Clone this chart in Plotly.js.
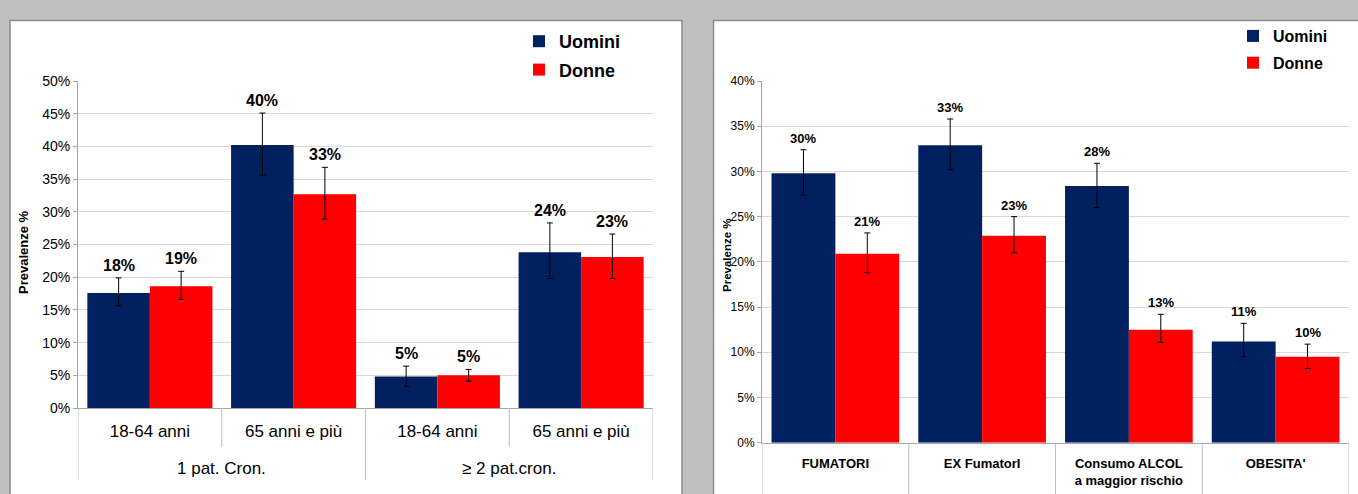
<!DOCTYPE html>
<html><head><meta charset="utf-8">
<script src="https://cdn.plot.ly/plotly-3.0.1.min.js"></script>
<style>html,body{margin:0;padding:0;background:#c0c0c0;} #chart{width:1358px;height:494px;}</style>
</head><body><div id="chart"></div>
<script>
// ---------- data: left chart ----------
const leftGroups = ['1 pat. Cron.', '1 pat. Cron.', '≥ 2 pat.cron.', '≥ 2 pat.cron.'];
const leftCategories = ['18-64 anni', '65 anni e più', '18-64 anni', '65 anni e più'];
const leftUomini = [17.6, 40.2, 4.8, 23.8];
const leftUominiLow = [15.6, 35.6, 3.3, 19.8];
const leftUominiHigh = [19.9, 45.1, 6.4, 28.3];
const leftDonne = [18.6, 32.7, 5.0, 23.1];
const leftDonneLow = [16.6, 28.9, 4.1, 19.8];
const leftDonneHigh = [20.9, 36.8, 5.9, 26.6];

// ---------- data: right chart ----------
const rightCategories = ['FUMATORI', 'EX FumatorI', 'Consumo ALCOL<br>a maggior rischio', "OBESITA'"];
const rightUomini = [29.8, 32.9, 28.4, 11.2];
const rightUominiLow = [27.4, 30.2, 26.0, 9.5];
const rightUominiHigh = [32.4, 35.8, 30.9, 13.2];
const rightDonne = [20.9, 22.9, 12.5, 9.5];
const rightDonneLow = [18.8, 21.0, 11.1, 8.2];
const rightDonneHigh = [23.2, 25.0, 14.2, 10.9];

const seriesNames = ['Uomini', 'Donne'];
const yTitle = 'Prevalenze %';

// ---------- styling ----------
const NAVY = '#002060', RED = '#ff0000';
const FONT = 'Liberation Sans, Arial, sans-serif';
const W = 1358, H = 494;
const px = v => v / W, py = v => 1 - v / H;
const BARGAP = 0.13;

function errBar(vals, lo, hi) {
  return {type: 'data', symmetric: false,
    array: hi.map((h, i) => +(h - vals[i]).toFixed(2)),
    arrayminus: lo.map((l, i) => +(vals[i] - l).toFixed(2)),
    color: '#000', thickness: 1, width: 3};
}

// left chart uses index positions so repeated category names stay separate
const leftX = leftCategories.map((c, i) => i);
const traces = [
  {type: 'bar', name: seriesNames[0], x: leftX, y: leftUomini, marker: {color: NAVY},
   error_y: errBar(leftUomini, leftUominiLow, leftUominiHigh), xaxis: 'x', yaxis: 'y',
   legend: 'legend', legendgroup: 'a', hoverinfo: 'none'},
  {type: 'bar', name: seriesNames[1], x: leftX, y: leftDonne, marker: {color: RED},
   error_y: errBar(leftDonne, leftDonneLow, leftDonneHigh), xaxis: 'x', yaxis: 'y',
   legend: 'legend', legendgroup: 'b', hoverinfo: 'none'},
  {type: 'bar', name: seriesNames[0], x: rightCategories, y: rightUomini, marker: {color: NAVY},
   error_y: errBar(rightUomini, rightUominiLow, rightUominiHigh), xaxis: 'x2', yaxis: 'y2',
   legend: 'legend2', legendgroup: 'c', hoverinfo: 'none'},
  {type: 'bar', name: seriesNames[1], x: rightCategories, y: rightDonne, marker: {color: RED},
   error_y: errBar(rightDonne, rightDonneLow, rightDonneHigh), xaxis: 'x2', yaxis: 'y2',
   legend: 'legend2', legendgroup: 'd', hoverinfo: 'none'}
];

// value labels
const off = (1 - BARGAP) / 4;
const annotations = [];
function addLabels(vals, hi, sign, xref, yref, size) {
  vals.forEach((v, i) => annotations.push({
    x: i + sign * off, y: hi[i], xref: xref, yref: yref, yanchor: 'bottom', yshift: 2,
    text: Math.round(v) + '%', showarrow: false,
    font: {family: FONT, size: size, color: '#000', weight: 'bold'}
  }));
}
addLabels(leftUomini, leftUominiHigh, -1, 'x', 'y', 16);
addLabels(leftDonne, leftDonneHigh, 1, 'x', 'y', 16);
addLabels(rightUomini, rightUominiHigh, -1, 'x2', 'y2', 13);
addLabels(rightDonne, rightDonneHigh, 1, 'x2', 'y2', 13);

annotations.push({x: px(23), y: py(252), xref: 'paper', yref: 'paper', xanchor: 'center', yanchor: 'middle',
  text: yTitle, textangle: -90, showarrow: false,
  font: {family: FONT, size: 13, color: '#000', weight: 'bold'}});
annotations.push({x: px(727), y: py(255), xref: 'paper', yref: 'paper', xanchor: 'center', yanchor: 'middle',
  text: yTitle, textangle: -90, showarrow: false,
  font: {family: FONT, size: 11.5, color: '#000', weight: 'bold'}});

// shapes: panels and category separators
const SEP = '#bfbfbf';
const shapes = [
  {type: 'rect', xref: 'paper', yref: 'paper', x0: px(10), x1: px(682), y0: -0.1, y1: py(20.5),
   fillcolor: '#ffffff', line: {color: '#8c8c8c', width: 1.5}, layer: 'below'},
  {type: 'rect', xref: 'paper', yref: 'paper', x0: px(713.5), x1: 1.1, y0: -0.1, y1: py(20.5),
   fillcolor: '#ffffff', line: {color: '#8c8c8c', width: 1.5}, layer: 'below'}
];
for (let i = 0; i <= leftCategories.length; i++) {
  const isGroupEdge = (i === 0 || i === leftCategories.length || leftGroups[i] !== leftGroups[i - 1]);
  shapes.push({type: 'line', xref: 'x', yref: 'paper', x0: i - 0.5, x1: i - 0.5,
    y0: py(408), y1: isGroupEdge ? py(480) : py(447), line: {color: SEP, width: 1}});
}
for (let i = 0; i <= rightCategories.length; i++) {
  shapes.push({type: 'line', xref: 'x2', yref: 'paper', x0: i - 0.5, x1: i - 0.5,
    y0: py(442.7), y1: -0.05, line: {color: SEP, width: 1}});
}
// group labels under the left chart
const groupNames = [...new Set(leftGroups)];
groupNames.forEach(g => {
  const idx = leftGroups.map((v, i) => v === g ? i : -1).filter(i => i >= 0);
  const mid = (idx[0] + idx[idx.length - 1]) / 2;
  annotations.push({x: mid, y: py(468), xref: 'x', yref: 'paper', xanchor: 'center', yanchor: 'middle',
    text: g, showarrow: false, font: {family: FONT, size: 17, color: '#000'}});
});

const yAxisCommon = {ticksuffix: '%', dtick: 5, showgrid: true, gridcolor: '#d9d9d9', gridwidth: 1,
  zeroline: false, showline: true, linecolor: '#a6a6a6', ticks: 'outside', ticklen: 4,
  tickcolor: '#a6a6a6', fixedrange: true};

const layout = {
  width: W, height: H,
  margin: {l: 0, r: 0, t: 0, b: 0},
  paper_bgcolor: '#c0c0c0', plot_bgcolor: 'rgba(0,0,0,0)',
  barmode: 'group', bargap: BARGAP, bargroupgap: 0,
  font: {family: FONT, color: '#000'},
  showlegend: true,
  xaxis: {domain: [px(78), px(653)], anchor: 'y', type: 'linear',
    tickmode: 'array', tickvals: leftX, ticktext: leftCategories,
    range: [-0.5, leftCategories.length - 0.5],
    showline: true, linecolor: '#a6a6a6', ticks: '', showgrid: false, zeroline: false,
    tickfont: {family: FONT, size: 17, color: '#000'}, ticklabelstandoff: 8, fixedrange: true},
  yaxis: Object.assign({domain: [py(408), py(81)], range: [0, 50], anchor: 'x',
    tickfont: {family: FONT, size: 14, color: '#000'}}, yAxisCommon),
  xaxis2: {domain: [px(762), px(1349)], anchor: 'y2', type: 'category',
    range: [-0.5, rightCategories.length - 0.5],
    showline: true, linecolor: '#a6a6a6', ticks: '', showgrid: false,
    tickfont: {family: FONT, size: 13, color: '#000', weight: 'bold'}, ticklabelstandoff: 9, fixedrange: true},
  yaxis2: Object.assign({domain: [py(442.7), py(81)], range: [0, 40], anchor: 'x2',
    tickfont: {family: FONT, size: 12, color: '#000'}}, yAxisCommon),
  legend: {x: px(519), y: py(23), xanchor: 'left', yanchor: 'top', bgcolor: 'rgba(0,0,0,0)',
    font: {family: FONT, size: 18, color: '#000', weight: 'bold'}, tracegroupgap: 2, itemclick: false},
  legend2: {x: px(1233), y: py(19), xanchor: 'left', yanchor: 'top', bgcolor: 'rgba(0,0,0,0)',
    font: {family: FONT, size: 16, color: '#000', weight: 'bold'}, tracegroupgap: 3, itemclick: false},
  shapes: shapes,
  annotations: annotations
};

Plotly.newPlot('chart', traces, layout, {displayModeBar: false, staticPlot: true});
</script></body></html>
